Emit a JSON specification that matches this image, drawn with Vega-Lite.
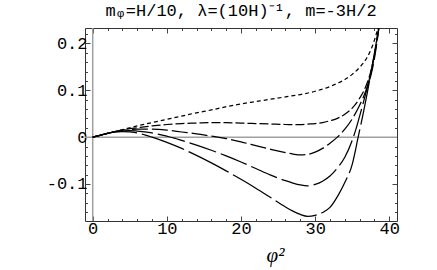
{
  "$schema": "https://vega.github.io/schema/vega-lite/v6.json",
  "autosize": "none",
  "padding": {"left": 85, "top": 28, "right": 40, "bottom": 49},
  "width": 312,
  "height": 193,
  "background": "white",
  "config": {"view": {"stroke": "#333", "strokeWidth": 1}},
  "title": {"text": "mᵩ=H/10, λ=(10H)⁻¹, m=-3H/2", "font": "Liberation Mono", "fontSize": 17, "fontWeight": "normal", "color": "black", "offset": 7, "anchor": "middle"},
  "datasets": {
    "curves": [
      {"x":0,"y":0,"s":"c1"},{"x":1,"y":0.004,"s":"c1"},{"x":2,"y":0.008,"s":"c1"},{"x":3,"y":0.012,"s":"c1"},{"x":4,"y":0.016,"s":"c1"},{"x":6,"y":0.024,"s":"c1"},{"x":8,"y":0.031,"s":"c1"},{"x":10,"y":0.038,"s":"c1"},{"x":12,"y":0.045,"s":"c1"},{"x":14,"y":0.052,"s":"c1"},{"x":16,"y":0.058,"s":"c1"},{"x":18,"y":0.065,"s":"c1"},{"x":20,"y":0.071,"s":"c1"},{"x":22,"y":0.076,"s":"c1"},{"x":24,"y":0.081,"s":"c1"},{"x":26,"y":0.086,"s":"c1"},{"x":28,"y":0.091,"s":"c1"},{"x":30,"y":0.098,"s":"c1"},{"x":32,"y":0.108,"s":"c1"},{"x":33,"y":0.115,"s":"c1"},{"x":34,"y":0.123,"s":"c1"},{"x":35,"y":0.134,"s":"c1"},{"x":36,"y":0.149,"s":"c1"},{"x":37,"y":0.17,"s":"c1"},{"x":37.5,"y":0.186,"s":"c1"},{"x":38,"y":0.207,"s":"c1"},{"x":38.5,"y":0.236,"s":"c1"},{"x":39,"y":0.28,"s":"c1"},
      {"x":0,"y":0,"s":"c2"},{"x":1,"y":0.004,"s":"c2"},{"x":2,"y":0.008,"s":"c2"},{"x":3,"y":0.012,"s":"c2"},{"x":4,"y":0.015,"s":"c2"},{"x":5,"y":0.018,"s":"c2"},{"x":6,"y":0.02,"s":"c2"},{"x":8,"y":0.024,"s":"c2"},{"x":10,"y":0.027,"s":"c2"},{"x":12,"y":0.029,"s":"c2"},{"x":14,"y":0.03,"s":"c2"},{"x":16,"y":0.031,"s":"c2"},{"x":18,"y":0.031,"s":"c2"},{"x":20,"y":0.03,"s":"c2"},{"x":22,"y":0.029,"s":"c2"},{"x":24,"y":0.028,"s":"c2"},{"x":26,"y":0.027,"s":"c2"},{"x":28,"y":0.027,"s":"c2"},{"x":29,"y":0.028,"s":"c2"},{"x":30,"y":0.029,"s":"c2"},{"x":31,"y":0.031,"s":"c2"},{"x":32,"y":0.035,"s":"c2"},{"x":33,"y":0.04,"s":"c2"},{"x":34,"y":0.049,"s":"c2"},{"x":35,"y":0.062,"s":"c2"},{"x":36,"y":0.083,"s":"c2"},{"x":37,"y":0.115,"s":"c2"},{"x":37.5,"y":0.14,"s":"c2"},{"x":38,"y":0.176,"s":"c2"},{"x":38.5,"y":0.228,"s":"c2"},{"x":39,"y":0.29,"s":"c2"},
      {"x":0,"y":0,"s":"c3"},{"x":1,"y":0.004,"s":"c3"},{"x":2,"y":0.008,"s":"c3"},{"x":3,"y":0.012,"s":"c3"},{"x":4,"y":0.015,"s":"c3"},{"x":5,"y":0.016,"s":"c3"},{"x":6,"y":0.017,"s":"c3"},{"x":8,"y":0.017,"s":"c3"},{"x":10,"y":0.015,"s":"c3"},{"x":12,"y":0.011,"s":"c3"},{"x":14,"y":0.007,"s":"c3"},{"x":16,"y":0.002,"s":"c3"},{"x":18,"y":-0.003,"s":"c3"},{"x":20,"y":-0.01,"s":"c3"},{"x":22,"y":-0.018,"s":"c3"},{"x":24,"y":-0.026,"s":"c3"},{"x":26,"y":-0.033,"s":"c3"},{"x":27,"y":-0.036,"s":"c3"},{"x":28,"y":-0.038,"s":"c3"},{"x":29,"y":-0.037,"s":"c3"},{"x":30,"y":-0.032,"s":"c3"},{"x":31,"y":-0.024,"s":"c3"},{"x":32,"y":-0.013,"s":"c3"},{"x":33,"y":0,"s":"c3"},{"x":34,"y":0.017,"s":"c3"},{"x":35,"y":0.039,"s":"c3"},{"x":36,"y":0.068,"s":"c3"},{"x":37,"y":0.106,"s":"c3"},{"x":37.5,"y":0.131,"s":"c3"},{"x":38,"y":0.168,"s":"c3"},{"x":38.5,"y":0.222,"s":"c3"},{"x":39,"y":0.29,"s":"c3"},
      {"x":0,"y":0,"s":"c4"},{"x":1,"y":0.004,"s":"c4"},{"x":2,"y":0.008,"s":"c4"},{"x":3,"y":0.011,"s":"c4"},{"x":4,"y":0.013,"s":"c4"},{"x":5,"y":0.014,"s":"c4"},{"x":6,"y":0.013,"s":"c4"},{"x":8,"y":0.009,"s":"c4"},{"x":10,"y":0.002,"s":"c4"},{"x":11,"y":-0.002,"s":"c4"},{"x":12,"y":-0.007,"s":"c4"},{"x":14,"y":-0.017,"s":"c4"},{"x":16,"y":-0.028,"s":"c4"},{"x":18,"y":-0.04,"s":"c4"},{"x":20,"y":-0.053,"s":"c4"},{"x":22,"y":-0.067,"s":"c4"},{"x":24,"y":-0.081,"s":"c4"},{"x":26,"y":-0.093,"s":"c4"},{"x":27,"y":-0.098,"s":"c4"},{"x":28,"y":-0.102,"s":"c4"},{"x":29,"y":-0.104,"s":"c4"},{"x":30,"y":-0.101,"s":"c4"},{"x":31,"y":-0.094,"s":"c4"},{"x":32,"y":-0.083,"s":"c4"},{"x":33,"y":-0.066,"s":"c4"},{"x":34,"y":-0.043,"s":"c4"},{"x":35,"y":-0.007,"s":"c4"},{"x":35.5,"y":0.017,"s":"c4"},{"x":36,"y":0.045,"s":"c4"},{"x":37,"y":0.104,"s":"c4"},{"x":37.5,"y":0.137,"s":"c4"},{"x":38,"y":0.175,"s":"c4"},{"x":38.5,"y":0.222,"s":"c4"},{"x":39,"y":0.28,"s":"c4"},
      {"x":0,"y":0,"s":"c5"},{"x":1,"y":0.004,"s":"c5"},{"x":2,"y":0.008,"s":"c5"},{"x":3,"y":0.011,"s":"c5"},{"x":4,"y":0.012,"s":"c5"},{"x":5,"y":0.011,"s":"c5"},{"x":6,"y":0.009,"s":"c5"},{"x":7,"y":0.005,"s":"c5"},{"x":8,"y":0,"s":"c5"},{"x":10,"y":-0.011,"s":"c5"},{"x":12,"y":-0.024,"s":"c5"},{"x":14,"y":-0.039,"s":"c5"},{"x":16,"y":-0.055,"s":"c5"},{"x":18,"y":-0.072,"s":"c5"},{"x":20,"y":-0.09,"s":"c5"},{"x":22,"y":-0.109,"s":"c5"},{"x":24,"y":-0.129,"s":"c5"},{"x":26,"y":-0.149,"s":"c5"},{"x":27,"y":-0.158,"s":"c5"},{"x":28,"y":-0.165,"s":"c5"},{"x":29,"y":-0.169,"s":"c5"},{"x":30,"y":-0.167,"s":"c5"},{"x":31,"y":-0.161,"s":"c5"},{"x":32,"y":-0.15,"s":"c5"},{"x":33,"y":-0.127,"s":"c5"},{"x":34,"y":-0.097,"s":"c5"},{"x":35,"y":-0.058,"s":"c5"},{"x":35.8,"y":0,"s":"c5"},{"x":36.5,"y":0.052,"s":"c5"},{"x":37,"y":0.092,"s":"c5"},{"x":37.5,"y":0.135,"s":"c5"},{"x":38,"y":0.18,"s":"c5"},{"x":38.5,"y":0.226,"s":"c5"},{"x":39,"y":0.28,"s":"c5"}
    ]
  },
  "layer": [
    {
      "data": {"values": [{"x": 0}]},
      "mark": {"type": "rule", "color": "#a0a0a0", "strokeWidth": 1.5},
      "encoding": {"x": {"field": "x", "type": "quantitative", "scale": {"domain": [-1.04, 41.04], "nice": false, "zero": false}, "axis": null}}
    },
    {
      "data": {"values": [{"y": 0}]},
      "mark": {"type": "rule", "color": "#a0a0a0", "strokeWidth": 1.5},
      "encoding": {"y": {"field": "y", "type": "quantitative", "scale": {"domain": [-0.179, 0.233], "nice": false, "zero": false}, "axis": null}}
    },
    {
      "data": {"name": "curves"},
      "mark": {"type": "line", "color": "black", "strokeWidth": 1.25, "interpolate": "monotone", "clip": true},
      "encoding": {
        "x": {"field": "x", "type": "quantitative", "scale": {"domain": [-1.04, 41.04], "nice": false, "zero": false},
          "axis": {"orient": "bottom", "values": [0,2,4,6,8,10,12,14,16,18,20,22,24,26,28,30,32,34,36,38,40],
            "tickSize": {"condition": {"test": "datum.value % 10 === 0", "value": -5}, "value": -2.5},
            "labelExpr": "datum.value % 10 === 0 ? datum.label : ''",
            "domain": false, "grid": false, "tickColor": "#444", "tickWidth": 1,
            "labelFont": "Liberation Mono", "labelFontSize": 17, "labelColor": "black", "labelPadding": 4,
            "title": "φ²", "titleFont": "Liberation Serif", "titleFontStyle": "italic", "titleFontSize": 21, "titleFontWeight": "normal", "titleColor": "black",
            "titleX": 190, "titleY": 40, "titleBaseline": "alphabetic", "titleAlign": "center"}},
        "y": {"field": "y", "type": "quantitative", "scale": {"domain": [-0.179, 0.233], "nice": false, "zero": false},
          "axis": {"orient": "left", "values": [-0.16,-0.14,-0.12,-0.1,-0.08,-0.06,-0.04,-0.02,0,0.02,0.04,0.06,0.08,0.1,0.12,0.14,0.16,0.18,0.2,0.22],
            "tickSize": {"condition": {"test": "abs(datum.value*10 - round(datum.value*10)) < 0.000001", "value": -5}, "value": -2.5},
            "labelExpr": "abs(datum.value*10 - round(datum.value*10)) < 0.000001 ? (datum.value === 0 ? '0' : (datum.value < 0 ? '-' : '') + format(abs(datum.value), '.1f')) : ''",
            "domain": false, "grid": false, "tickColor": "#444", "tickWidth": 1,
            "labelFont": "Liberation Mono", "labelFontSize": 17, "labelColor": "black", "labelPadding": 3, "title": null}},
        "strokeDash": {"field": "s", "type": "nominal", "scale": {"domain": ["c1","c2","c3","c4","c5"], "range": [[4,3],[9,3],[16,4],[28,5],[45,5]]}, "legend": null}
      }
    },
    {
      "data": {"values": [{"x": 0, "y": 0}]},
      "mark": {"type": "point", "opacity": 0},
      "encoding": {
        "x": {"field": "x", "type": "quantitative", "scale": {"domain": [-1.04, 41.04], "nice": false, "zero": false},
          "axis": {"orient": "top", "values": [0,2,4,6,8,10,12,14,16,18,20,22,24,26,28,30,32,34,36,38,40],
            "tickSize": {"condition": {"test": "datum.value % 10 === 0", "value": -5}, "value": -2.5},
            "labels": false, "domain": false, "grid": false, "tickColor": "#444", "title": null}},
        "y": {"field": "y", "type": "quantitative", "scale": {"domain": [-0.179, 0.233], "nice": false, "zero": false},
          "axis": {"orient": "right", "values": [-0.16,-0.14,-0.12,-0.1,-0.08,-0.06,-0.04,-0.02,0,0.02,0.04,0.06,0.08,0.1,0.12,0.14,0.16,0.18,0.2,0.22],
            "tickSize": {"condition": {"test": "abs(datum.value*10 - round(datum.value*10)) < 0.000001", "value": -5}, "value": -2.5},
            "labels": false, "domain": false, "grid": false, "tickColor": "#444", "title": null}}
      }
    }
  ],
  "resolve": {"axis": {"x": "independent", "y": "independent"}}
}
